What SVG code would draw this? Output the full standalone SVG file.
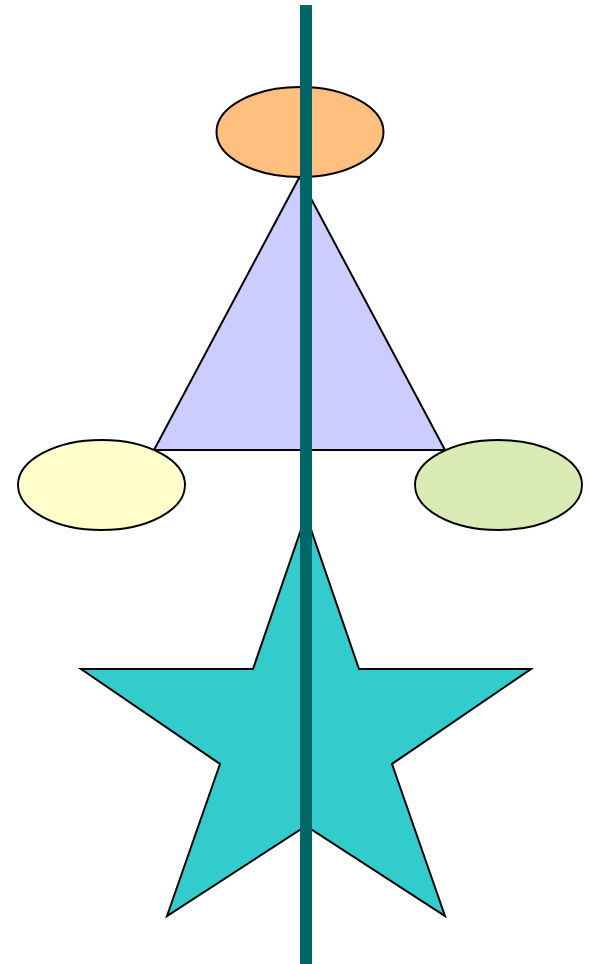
<svg xmlns="http://www.w3.org/2000/svg" width="590" height="964" viewBox="0 0 590 964">
<style>
.s{stroke:#000;stroke-width:2;stroke-linejoin:miter}
</style>
<rect width="590" height="964" fill="#fff"/>
<g id="triangle"><polygon class="s" points="299.5,177 445,450 154,450" fill="#CCCCFF"/></g>
<g id="top"><ellipse class="s" cx="300" cy="132" rx="83.5" ry="45" fill="#FFBF7F"/></g>
<g id="left"><ellipse class="s" cx="101.5" cy="485" rx="83.5" ry="45" fill="#FFFFCC"/></g>
<g id="right"><ellipse class="s" cx="498.5" cy="485" rx="83.5" ry="45" fill="#D9EAB4"/></g>
<g id="star"><polygon class="s" points="306,515 359,669 531,669 392,764 445,916 306,826 167,916 220,764 81,669 253,669" fill="#33CCCC"/></g>
<g id="connectors"><line x1="306" y1="5" x2="306" y2="964" stroke="#006666" stroke-width="12"/></g>
</svg>
